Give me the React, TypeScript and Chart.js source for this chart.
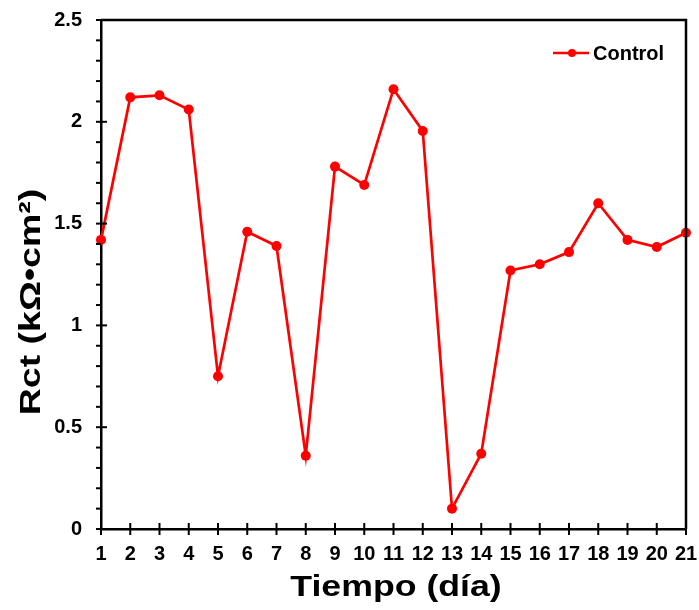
import React, { useEffect, useRef } from "react";
import { Chart, registerables } from "chart.js";

Chart.register(...registerables);

const days: number[] = [1, 2, 3, 4, 5, 6, 7, 8, 9, 10, 11, 12, 13, 14, 15, 16, 17, 18, 19, 20, 21];
const controlRct: number[] = [1.42, 2.12, 2.13, 2.06, 0.75, 1.46, 1.39, 0.36, 1.78, 1.69, 2.16, 1.955, 0.1, 0.37, 1.27, 1.3, 1.36, 1.6, 1.42, 1.385, 1.455];
const seriesLabel = "Control";
const xTitle = "Tiempo (día)";
const yTitle = "Rct (kΩ•cm²)";

const FONT = '"Liberation Sans", Arial, sans-serif';
const RED = "#ff0000";

const framePlugin = {
  id: "frame",
  afterDraw(chart: any) {
    const ctx = chart.ctx;
    const { left, right, top, bottom } = chart.chartArea;
    const xs = chart.scales.x;
    const ys = chart.scales.y;
    ctx.save();
    ctx.strokeStyle = "#000";
    ctx.lineWidth = 2.5;
    ctx.beginPath();
    ctx.moveTo(left, top);
    ctx.lineTo(right, top);
    ctx.lineTo(right, bottom);
    ctx.stroke();
    ctx.lineWidth = 2;
    for (let v = xs.min; v <= xs.max; v += 1) {
      const px = xs.getPixelForValue(v);
      ctx.beginPath();
      ctx.moveTo(px, bottom - 6);
      ctx.lineTo(px, bottom + 6);
      ctx.stroke();
    }
    for (let i = 0; i <= 25; i++) {
      const v = i / 10;
      const py = ys.getPixelForValue(v);
      const major = i % 5 === 0;
      const inner = major && i !== 0 && i !== 25 ? 6 : 0;
      ctx.beginPath();
      ctx.moveTo(left - 5, py);
      ctx.lineTo(left + inner, py);
      ctx.stroke();
    }
    ctx.fillStyle = "#000";
    ctx.font = `bold 29px ${FONT}`;
    ctx.textAlign = "center";
    ctx.textBaseline = "alphabetic";
    ctx.save();
    ctx.translate(396, 596);
    ctx.scale(1.23, 1);
    ctx.fillText(xTitle, 0, 0);
    ctx.restore();

    ctx.save();
    ctx.font = `bold 30px ${FONT}`;
    ctx.translate(40, 302);
    ctx.rotate(-Math.PI / 2);
    ctx.scale(1.25, 1);
    ctx.fillText(yTitle, 0, 0);
    ctx.restore();

    const ds = chart.data.datasets[0];
    const ly = 53;
    ctx.strokeStyle = RED;
    ctx.lineWidth = 2.5;
    ctx.beginPath();
    ctx.moveTo(553, ly);
    ctx.lineTo(589, ly);
    ctx.stroke();
    ctx.fillStyle = RED;
    ctx.beginPath();
    ctx.arc(572, ly, 4, 0, Math.PI * 2);
    ctx.fill();
    ctx.fillStyle = "#000";
    ctx.font = `bold 20px ${FONT}`;
    ctx.textAlign = "left";
    ctx.textBaseline = "middle";
    ctx.fillText(ds.label, 593, ly + 1);
    ctx.restore();
  },
};

export default function App() {
  const ref = useRef<HTMLCanvasElement | null>(null);
  useEffect(() => {
    document.body.style.margin = "0";
    const canvas = ref.current;
    if (!canvas) return;
    const chart = new Chart(canvas, {
      type: "line",
      data: {
        datasets: [
          {
            label: seriesLabel,
            data: days.map((d, i) => ({ x: d, y: controlRct[i] })),
            borderColor: RED,
            backgroundColor: RED,
            borderWidth: 2.7,
            pointRadius: 5,
            pointBackgroundColor: RED,
            pointBorderColor: RED,
            pointBorderWidth: 0,
            tension: 0,
            clip: false as any,
          },
        ],
      },
      options: {
        animation: false,
        responsive: false,
        devicePixelRatio: 1,
        layout: { padding: { left: 0, top: 20, right: 13, bottom: 0 } },
        plugins: { legend: { display: false }, tooltip: { enabled: false } },
        scales: {
          x: {
            type: "linear",
            min: 1,
            max: 21,
            grid: { display: false, drawTicks: false },
            border: { display: true, color: "#000", width: 2.5 },
            ticks: {
              stepSize: 1,
              color: "#000",
              padding: 13,
              maxRotation: 0,
              autoSkip: false,
              font: { family: FONT, size: 20, weight: "bold" },
            },
            afterFit(scale: any) {
              scale.height = 81;
              scale.paddingLeft = 0;
              scale.paddingRight = 0;
            },
          },
          y: {
            type: "linear",
            min: 0,
            max: 2.5,
            grid: { display: false, drawTicks: false },
            border: { display: true, color: "#000", width: 2.5 },
            ticks: {
              stepSize: 0.5,
              color: "#000",
              padding: 19,
              font: { family: FONT, size: 20, weight: "bold" },
              callback: (v: any) => String(Math.round(Number(v) * 10) / 10),
            },
            afterFit(scale: any) {
              scale.width = 101;
              scale.paddingTop = 0;
              scale.paddingBottom = 0;
            },
          },
        },
      },
      plugins: [framePlugin],
    });
    return () => chart.destroy();
  }, []);
  return (
    <div style={{ width: 699, height: 610 }}>
      <canvas ref={ref} width={699} height={610} />
    </div>
  );
}
